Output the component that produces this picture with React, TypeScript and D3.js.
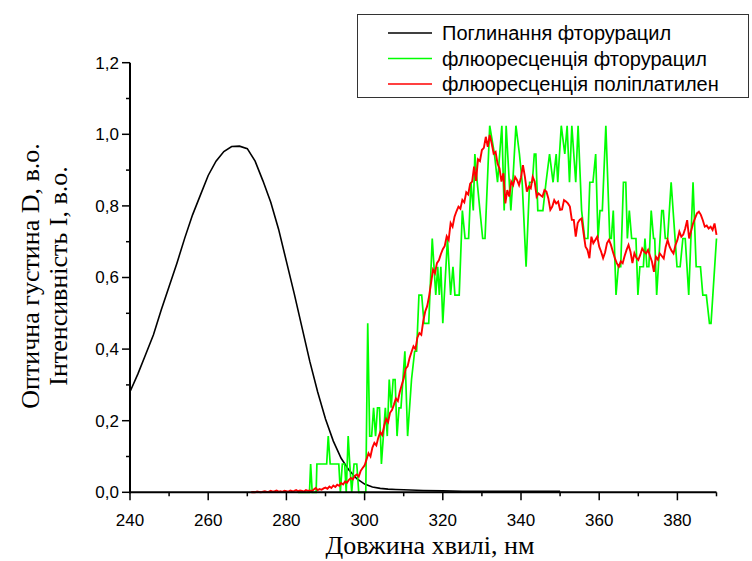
import React from "react";
import * as d3 from "d3";

// Absorption of fluorouracil: [wavelength nm, optical density]
const absorbFluorouracil: [number, number][] = [
  [240, 0.281], [242, 0.33], [244, 0.385], [246, 0.44], [248, 0.51], [250, 0.575],
  [252, 0.64], [254, 0.71], [256, 0.775], [258, 0.83], [260, 0.885], [262, 0.925],
  [264, 0.952], [266, 0.966], [268, 0.967], [270, 0.96], [272, 0.925], [274, 0.87],
  [276, 0.81], [278, 0.735], [280, 0.645], [282, 0.555], [284, 0.46], [286, 0.365],
  [288, 0.28], [290, 0.205], [292, 0.143], [294, 0.095], [296, 0.062], [298, 0.038],
  [300, 0.023], [302, 0.015], [304, 0.011], [306, 0.009], [308, 0.008], [310, 0.007],
  [315, 0.005], [320, 0.004], [325, 0.003], [330, 0.003], [340, 0.003], [350, 0.003],
];

// Fluorescence of fluorouracil: [wavelength nm, intensity]
const fluorFluorouracil: [number, number][] = [
  [283.0, 0], [285.9, 0], [286.2, 0.079], [286.6, 0], [287.6, 0], [287.8, 0.079],
  [290.3, 0.079], [290.7, 0.157], [291.2, 0.079], [293.0, 0.079], [293.4, 0.079],
  [293.8, 0], [294.3, 0.079], [294.9, 0.079], [295.3, 0], [295.8, 0.157], [296.2, 0.079],
  [296.7, 0], [297.3, 0.079], [298.0, 0.079], [298.5, 0], [300.3, 0], [300.8, 0.472],
  [301.3, 0.157], [301.8, 0.157], [302.3, 0.236], [302.8, 0.157], [303.3, 0.236],
  [303.8, 0.236], [304.3, 0.079], [304.8, 0.157], [305.3, 0.236], [305.8, 0.157],
  [306.3, 0.315], [306.8, 0.236], [307.3, 0.315], [307.8, 0.315], [308.3, 0.157],
  [308.8, 0.236], [309.3, 0.236], [309.8, 0.315], [310.3, 0.394], [311.0, 0.157],
  [312.0, 0.315], [312.8, 0.394], [313.3, 0.394], [313.9, 0.551], [314.6, 0.551],
  [315.2, 0.472], [316.4, 0.472], [317.3, 0.709], [318.2, 0.551], [318.7, 0.63],
  [319.1, 0.551], [319.5, 0.63], [320.0, 0.472], [321.2, 0.709], [322.0, 0.551],
  [322.6, 0.63], [323.1, 0.551], [324.2, 0.551], [325.0, 0.787], [325.7, 0.709],
  [326.6, 0.709], [327.2, 0.866], [327.8, 0.787], [328.2, 0.945], [328.8, 0.866],
  [329.5, 0.787], [330.2, 0.709], [330.8, 0.709], [332.0, 1.024], [333.2, 0.945],
  [334.0, 0.866], [335.1, 1.024], [335.7, 0.787], [336.2, 1.024], [337.4, 0.787],
  [337.9, 0.866], [338.7, 1.024], [339.6, 0.945], [340.3, 0.866], [341.3, 0.63],
  [342.2, 0.866], [342.9, 0.866], [343.4, 0.945], [343.8, 0.945], [344.3, 0.787],
  [345.6, 0.787], [346.4, 0.866], [347.3, 0.945], [348.2, 0.866], [349.0, 0.945],
  [349.4, 0.866], [350.3, 1.024], [351.2, 0.945], [351.8, 1.024], [352.4, 0.866],
  [353.0, 1.024], [354.0, 0.866], [354.6, 1.024], [355.5, 0.787], [356.3, 0.709],
  [357.1, 0.709], [357.6, 0.866], [358.4, 0.866], [359.1, 0.945], [359.7, 0.709],
  [360.2, 0.787], [360.8, 0.787], [361.7, 1.024], [362.7, 0.709], [363.1, 0.709],
  [363.6, 0.787], [364.3, 0.551], [364.9, 0.63], [365.5, 0.63], [366.2, 0.866],
  [366.8, 0.866], [367.2, 0.709], [367.7, 0.787], [368.3, 0.709], [369.4, 0.709],
  [369.9, 0.551], [370.4, 0.63], [371.3, 0.63], [371.7, 0.709], [372.2, 0.63],
  [372.7, 0.63], [373.3, 0.787], [373.9, 0.709], [374.2, 0.709], [374.7, 0.551],
  [376.0, 0.787], [376.4, 0.787], [376.9, 0.709], [377.5, 0.709], [378.4, 0.866],
  [379.9, 0.63], [380.7, 0.63], [381.4, 0.709], [382.0, 0.709], [382.9, 0.551],
  [384.0, 0.866], [384.8, 0.63], [385.9, 0.63], [386.5, 0.551], [387.4, 0.551],
  [388.2, 0.472], [388.6, 0.472], [390.0, 0.709],
];

// Fluorescence of polyplatylene, sampled every 0.5 nm from 271 nm to 390 nm
const polyStart = 271;
const polyStep = 0.5;
const fluorPolyplatylene: number[] = [
  0.000, 0.001, 0.000, 0.002, 0.001, 0.000, 0.002, 0.003, 0.001, 0.002,
  0.004, 0.002, 0.003, 0.005, 0.002, 0.003, 0.001, 0.004, 0.003, 0.002,
  0.005, 0.003, 0.004, 0.006, 0.003, 0.005, 0.004, 0.002, 0.006, 0.004,
  0.005, 0.003, 0.008, 0.012, 0.006, 0.009, 0.007, 0.011, 0.013, 0.010,
  0.016, 0.012, 0.019, 0.015, 0.021, 0.018, 0.026, 0.022, 0.030, 0.027,
  0.035, 0.040, 0.036, 0.046, 0.050, 0.044, 0.060, 0.068, 0.075, 0.092,
  0.109, 0.100, 0.125, 0.138, 0.131, 0.152, 0.168, 0.160, 0.185, 0.205,
  0.196, 0.222, 0.230, 0.245, 0.262, 0.255, 0.280, 0.300, 0.318, 0.345,
  0.352, 0.375, 0.392, 0.408, 0.400, 0.432, 0.445, 0.440, 0.478, 0.505,
  0.520, 0.548, 0.585, 0.622, 0.612, 0.640, 0.648, 0.665, 0.679, 0.688,
  0.715, 0.705, 0.752, 0.742, 0.770, 0.785, 0.798, 0.792, 0.817, 0.810,
  0.838, 0.832, 0.862, 0.868, 0.910, 0.870, 0.930, 0.925, 0.956, 0.962,
  0.993, 0.965, 0.998, 0.975, 0.946, 0.951, 0.918, 0.905, 0.868, 0.891,
  0.807, 0.844, 0.826, 0.868, 0.858, 0.881, 0.872, 0.858, 0.880, 0.914,
  0.881, 0.840, 0.854, 0.849, 0.881, 0.868, 0.826, 0.835, 0.830, 0.826,
  0.844, 0.840, 0.821, 0.789, 0.798, 0.816, 0.807, 0.812, 0.789, 0.790,
  0.816, 0.812, 0.807, 0.798, 0.761, 0.761, 0.714, 0.752, 0.761, 0.765,
  0.724, 0.686, 0.677, 0.654, 0.714, 0.696, 0.705, 0.714, 0.686, 0.672,
  0.654, 0.670, 0.696, 0.705, 0.691, 0.672, 0.654, 0.640, 0.630, 0.645,
  0.640, 0.660, 0.677, 0.691, 0.672, 0.640, 0.668, 0.655, 0.649, 0.663,
  0.681, 0.672, 0.667, 0.677, 0.660, 0.644, 0.616, 0.658, 0.650, 0.667,
  0.660, 0.653, 0.685, 0.705, 0.686, 0.675, 0.667, 0.690, 0.705, 0.728,
  0.714, 0.720, 0.737, 0.760, 0.709, 0.730, 0.751, 0.765, 0.779, 0.784,
  0.775, 0.760, 0.742, 0.745, 0.737, 0.742, 0.733, 0.751, 0.719,
];

const xMajorTicks = [240, 260, 280, 300, 320, 340, 360, 380];
const xMinorTicks = [250, 270, 290, 310, 330, 350, 370, 390];
const yMajorTicks = [0, 0.2, 0.4, 0.6, 0.8, 1.0, 1.2];
const yMinorTicks = [0.1, 0.3, 0.5, 0.7, 0.9, 1.1];

const legendItems = [
  { label: "Поглинання фторурацил", color: "#000000" },
  { label: "флюоресценція фторурацил", color: "#00ff00" },
  { label: "флюоресценція поліплатилен", color: "#ff0000" },
];

const xTitle = "Довжина хвилі, нм";
const yTitle1 = "Оптична густина D, в.о.";
const yTitle2 = "Інтенсивність I, в.о.";

const W = 752;
const H = 561;
const plot = { left: 130, right: 716.5, top: 62.7, bottom: 492.3 };

const fmt = (v: number) => d3.format(".1f")(v).replace(".", ",");

export default function App() {
  const x = d3.scaleLinear().domain([240, 390]).range([plot.left, plot.right]);
  const y = d3.scaleLinear().domain([0, 1.2]).range([plot.bottom, plot.top]);

  const pairLine = d3
    .line<[number, number]>()
    .x((d) => x(d[0]))
    .y((d) => y(d[1]));

  const polyPoints: [number, number][] = fluorPolyplatylene.map((v, i) => [
    polyStart + i * polyStep,
    v,
  ]);

  const sans = "Arial, 'Liberation Sans', sans-serif";
  const serif = "'Times New Roman', 'Liberation Serif', serif";

  return (
    <svg
      width={W}
      height={H}
      style={{ position: "absolute", left: 0, top: 0, background: "#fff" }}
    >
      <rect x={0} y={0} width={W} height={H} fill="#fff" />

      {/* series */}
      <path d={pairLine(absorbFluorouracil) ?? ""} fill="none" stroke="#000" strokeWidth={1.6} />
      <path d={pairLine(fluorFluorouracil) ?? ""} fill="none" stroke="#00ff00" strokeWidth={1.7} />
      <path d={pairLine(polyPoints) ?? ""} fill="none" stroke="#ff0000" strokeWidth={1.9} />

      {/* axes */}
      <line x1={plot.left} x2={plot.left} y1={plot.top} y2={plot.bottom + 1} stroke="#000" strokeWidth={2} />
      <line x1={plot.left - 1} x2={plot.right} y1={plot.bottom} y2={plot.bottom} stroke="#000" strokeWidth={2} />

      {yMajorTicks.map((t) => (
        <g key={"ym" + t}>
          <line x1={plot.left - 8} x2={plot.left} y1={y(t)} y2={y(t)} stroke="#000" strokeWidth={1.5} />
          <text x={plot.left - 11} y={y(t)} dy="0.35em" textAnchor="end" fontFamily={sans} fontSize={17}>
            {fmt(t)}
          </text>
        </g>
      ))}
      {yMinorTicks.map((t) => (
        <line key={"yn" + t} x1={plot.left - 4} x2={plot.left} y1={y(t)} y2={y(t)} stroke="#000" strokeWidth={1.5} />
      ))}
      {xMajorTicks.map((t) => (
        <g key={"xm" + t}>
          <line x1={x(t)} x2={x(t)} y1={plot.bottom} y2={plot.bottom + 8} stroke="#000" strokeWidth={1.5} />
          <text x={x(t)} y={plot.bottom + 34} textAnchor="middle" fontFamily={sans} fontSize={17}>
            {t}
          </text>
        </g>
      ))}
      {xMinorTicks.map((t) => (
        <line key={"xn" + t} x1={x(t)} x2={x(t)} y1={plot.bottom} y2={plot.bottom + 4} stroke="#000" strokeWidth={1.5} />
      ))}

      {/* axis titles */}
      <text x={430} y={554} textAnchor="middle" fontFamily={serif} fontSize={26}>
        {xTitle}
      </text>
      <text transform="translate(39,276) rotate(-90)" textAnchor="middle" fontFamily={serif} fontSize={26}>
        {yTitle1}
      </text>
      <text transform="translate(67,276) rotate(-90)" textAnchor="middle" fontFamily={serif} fontSize={26}>
        {yTitle2}
      </text>

      {/* legend */}
      <rect x={357.5} y={14.5} width={391} height={83} fill="#fff" stroke="#333" strokeWidth={1} />
      {legendItems.map((item, i) => {
        const cy = 33 + i * 25.5;
        return (
          <g key={item.label}>
            <line x1={388} x2={432} y1={cy} y2={cy} stroke={item.color} strokeWidth={1.6} />
            <text x={442} y={cy} dy="0.35em" fontFamily={sans} fontSize={20}>
              {item.label}
            </text>
          </g>
        );
      })}
    </svg>
  );
}
